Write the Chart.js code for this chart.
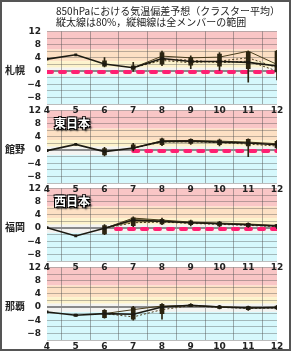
<!DOCTYPE html>
<html>
<head>
<meta charset="utf-8">
<script src="https://cdn.jsdelivr.net/npm/chart.js@4"></script>
<style>
body { margin:0; width:292px; height:354px; overflow:hidden; background:#fff; position:relative; font-family:"Noto Sans CJK JP", sans-serif; }
#frame { position:absolute; left:0; top:0; width:287px; height:347px; border:2px solid #555; }
.cv { position:absolute; left:0; width:292px; height:98px; }
.title { position:absolute; left:56px; top:5px; font-size:10px; line-height:11px; color:#222; z-index:10; white-space:nowrap; }
.stn { position:absolute; left:5px; font-size:10px; font-weight:bold; color:#222; z-index:10; }
.region { position:absolute; left:54px; font-size:12px; font-weight:bold; color:#fff; z-index:10;
  text-shadow: 1px 1px 0 #000, -1px -1px 0 #000, 1px -1px 0 #000, -1px 1px 0 #000, 2px 2px 2px #000; }
</style>
</head>
<body>
<div id="frame"></div>
<div class="title">850hPaにおける気温偏差予想（クラスター平均）<br>縦太線は80%，縦細線は全メンバーの範囲</div>

<canvas id="c1" class="cv" width="292" height="98" style="top:20px;z-index:4"></canvas>
<canvas id="c2" class="cv" width="292" height="98" style="top:99px;z-index:3"></canvas>
<canvas id="c3" class="cv" width="292" height="98" style="top:177px;z-index:2"></canvas>
<canvas id="c4" class="cv" width="292" height="98" style="top:256px;z-index:1"></canvas>

<div class="stn" style="top:62px">札幌</div>
<div class="stn" style="top:141px">館野</div>
<div class="stn" style="top:219px">福岡</div>
<div class="stn" style="top:298px">那覇</div>
<div class="region" style="top:114px">東日本</div>
<div class="region" style="top:192px">西日本</div>

<script>
// forecast days (x axis)
var days = [4, 5, 6, 7, 8, 9, 10, 11, 12];

// 札幌
var sapMean = [3.6, 4.9, 2.1, 1.0, 3.8, 2.9, 2.9, 2.6, 1.5];
var sap80lo = [null, null, 1.5, 0.5, 2.1, 1.8, 1.5, 0.7, -0.3];
var sap80hi = [null, null, 3.1, 1.6, 5.6, 4.1, 5.1, 5.7, 6.0];
var sapAllLo = [null, null, 1.2, -0.1, 1.6, 0.7, 0.2, -3.4, -2.7];
var sapAllHi = [null, null, 4.1, 2.6, 6.0, 4.6, 5.6, 6.0, 6.3];
var sapC1 = [null, null, null, 1.0, 4.5, 4.0, 4.2, 6.0, 2.0];
var sapC2 = [null, null, null, 1.0, 3.2, 2.5, 3.0, 4.0, 1.0];
var sapC3 = [null, null, null, 1.0, 3.5, 3.3, 2.5, 3.0, 0.0];
var sapPinkX = [4, 12];

// 館野
var tatMean = [-0.2, 1.7, -0.5, 0.6, 2.6, 2.7, 2.4, 2.1, 1.6];
var tat80lo = [null, null, -1.5, 0.0, 1.6, 2.0, 1.6, 1.2, 0.6];
var tat80hi = [null, null, 0.4, 1.6, 3.4, 3.2, 3.0, 3.2, 2.6];
var tatAllLo = [null, null, -1.8, -0.3, 1.3, 1.7, 1.2, -2.0, 0.3];
var tatAllHi = [null, null, 0.8, 2.0, 3.6, 3.4, 3.3, 3.4, 2.9];
var tatC1 = [null, null, null, 0.6, 2.8, 2.9, 2.7, 2.4, 1.9];
var tatC2 = [null, null, null, 0.6, 2.4, 2.5, 2.2, 1.8, 1.2];
var tatPinkX = [7, 12];

// 福岡
var fukMean = [0.1, -2.4, -0.1, 2.4, 2.0, 1.6, 1.3, 1.0, 0.6];
var fuk80lo = [null, null, -1.8, 0.7, 1.2, 1.0, 0.6, 0.4, 0.0];
var fuk80hi = [null, null, 0.7, 3.1, 2.6, 2.2, 1.8, 1.4, 1.0];
var fukAllLo = [null, null, -2.0, 0.4, 1.0, 0.6, 0.4, 0.2, -0.2];
var fukAllHi = [null, null, 1.0, 3.4, 3.0, 2.4, 2.0, 1.6, 1.1];
var fukC1 = [null, null, -0.1, 3.0, 2.4, 1.8, 1.5, 1.2, 0.8];
var fukC2 = [null, null, -0.1, 1.6, 1.8, 1.4, 1.1, 0.8, 0.4];
var fukPinkX = [6.4, 12];

// 那覇
var nahMean = [-1.5, -2.5, -2.0, -2.2, 0.0, 0.5, 0.0, -0.3, -0.2];
var nah80lo = [null, -2.8, -3.2, -3.7, -2.0, 0.2, -0.4, -0.8, -0.6];
var nah80hi = [null, -2.2, -1.0, -0.2, 0.8, 0.8, 0.3, 0.1, 0.3];
var nahAllLo = [null, null, -3.4, -4.0, -3.7, 0.0, -0.6, -1.0, -0.8];
var nahAllHi = [null, null, -0.8, 0.2, 1.0, 1.0, 0.5, 0.3, 0.5];
var nahC1 = [null, null, -2.0, -0.8, 0.3, 0.5, 0.1, -0.2, -0.1];
var nahC2 = [null, null, -2.0, -3.0, -0.8, 0.4, -0.1, -0.4, -0.3];
var nahPinkX = [];

var pinkLevel = -0.3;

// background bands (edges and colours)
var bandEdges = [12, 6.5, 3, 1, -1.5, -10];
var bandColors = ['#f9c6c6', '#fde0c4', '#fdf3cc', '#f3f3f1', '#d6f8fc'];

const bandsPlugin = {
    id: 'bands',
    beforeDraw: (chart) => {
        const ctx = chart.ctx;
        const a = chart.chartArea;
        const y = chart.scales.y;
        ctx.save();
        for (let i = 0; i < bandColors.length; i++) {
            const t = y.getPixelForValue(bandEdges[i]);
            const b = y.getPixelForValue(bandEdges[i + 1]);
            ctx.fillStyle = bandColors[i];
            ctx.fillRect(a.left, t, a.right - a.left, b - t);
        }
        ctx.restore();
    }
};

function pts(vals) {
    var out = [];
    for (var i = 0; i < days.length; i++) out.push({x: days[i], y: vals[i]});
    return out;
}
function bars(lo, hi) {
    var out = [];
    for (var i = 0; i < days.length; i++) {
        if (lo[i] != null) out.push({x: days[i], y: [lo[i], hi[i]]});
    }
    return out;
}

var tickFont = {family: 'DejaVu Sans', size: 9, weight: 'bold'};

function makePanel(id, mean, lo80, hi80, loAll, hiAll, clusters, pinkX, fillClusters) {
    var ds = [];
    if (pinkX.length) {
        ds.push({
            type: 'line', data: pinkX.map(function (x) { return {x: x, y: pinkLevel}; }),
            borderColor: '#ff1f72', borderWidth: 4, borderDash: [5, 8], borderCapStyle: 'round',
            pointRadius: 0, order: 6
        });
    }
    clusters.forEach(function (c, k) {
        ds.push({
            type: 'line', data: pts(c), borderColor: '#4a3d1c', borderWidth: 1,
            borderDash: k == 0 ? [] : [2, 2], pointRadius: 0, spanGaps: false,
            fill: (fillClusters && k == 1) ? '-1' : false,
            backgroundColor: 'rgba(120,100,30,0.55)', order: 4
        });
    });
    ds.push({
        type: 'bar', data: bars(loAll, hiAll), backgroundColor: '#2b2410',
        barThickness: 1, grouped: false, order: 3
    });
    ds.push({
        type: 'bar', data: bars(lo80, hi80), backgroundColor: '#2b2410',
        barThickness: 4, grouped: false, order: 2
    });
    ds.push({
        type: 'line', data: pts(mean), borderColor: '#1c1a12', borderWidth: 1.6,
        pointStyle: 'rect', pointRadius: 2, pointBackgroundColor: '#1c1a12',
        pointBorderWidth: 0, order: 1
    });

    new Chart(document.getElementById(id).getContext('2d'), {
        type: 'line',
        data: {datasets: ds},
        options: {
            responsive: false,
            animation: false,
            layout: {padding: {top: 10, right: 15, left: 0, bottom: 0}},
            scales: {
                x: {
                    type: 'linear', min: 4, max: 12, offset: false,
                    ticks: {stepSize: 1, font: tickFont, color: '#222', padding: 1, autoSkip: false},
                    grid: {color: 'rgba(80,80,80,0.45)', drawTicks: false},
                    border: {display: false},
                    afterFit: function (s) { s.height = 14; }
                },
                y: {
                    min: -10, max: 12,
                    ticks: {
                        stepSize: 2, font: tickFont, color: '#222', padding: 6, autoSkip: false,
                        callback: function (v) {
                            if (v % 4 != 0 || v <= -10) return '';
                            return v < 0 ? '−' + (-v) : '' + v;
                        }
                    },
                    grid: {
                        drawTicks: false,
                        color: function (c) { return c.tick.value == 0 ? '#8a8a8a' : 'rgba(80,80,80,0.38)'; },
                        lineWidth: function (c) { return c.tick.value == 0 ? 2 : 1; }
                    },
                    border: {display: false},
                    afterFit: function (s) { s.width = 47; }
                }
            },
            plugins: {legend: {display: false}, tooltip: {enabled: false}}
        },
        plugins: [bandsPlugin]
    });
}

makePanel('c1', sapMean, sap80lo, sap80hi, sapAllLo, sapAllHi, [sapC1, sapC2, sapC3], sapPinkX, false);
makePanel('c2', tatMean, tat80lo, tat80hi, tatAllLo, tatAllHi, [tatC1, tatC2], tatPinkX, false);
makePanel('c3', fukMean, fuk80lo, fuk80hi, fukAllLo, fukAllHi, [fukC1, fukC2], fukPinkX, true);
makePanel('c4', nahMean, nah80lo, nah80hi, nahAllLo, nahAllHi, [nahC1, nahC2], nahPinkX, false);
</script>
</body>
</html>
